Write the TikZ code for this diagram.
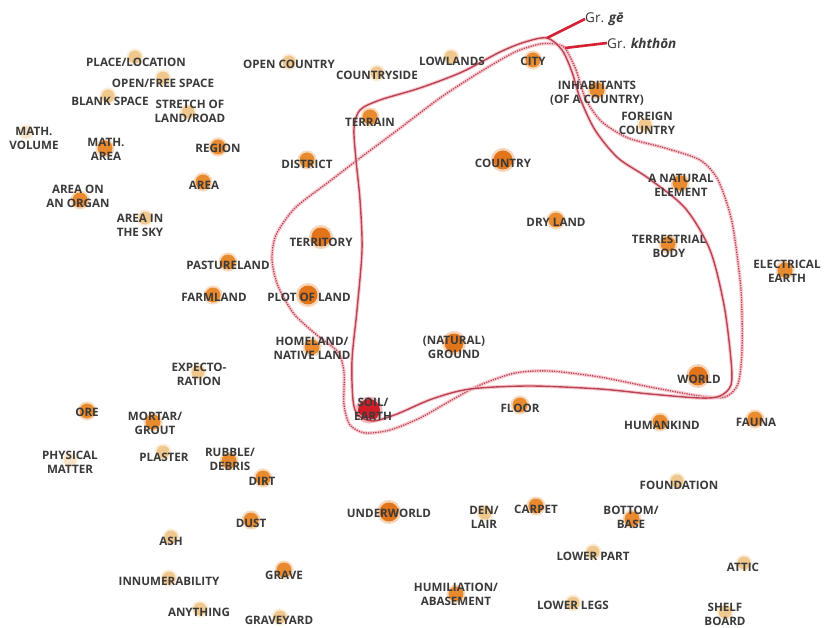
\documentclass[tikz,border=0pt]{standalone}
\usepackage{fontspec}
\setmainfont{Open Sans}
\definecolor{dorg}{HTML}{E2741A}
\definecolor{morg}{HTML}{E98A2E}
\definecolor{lorg}{HTML}{F0C88E}
\definecolor{forg}{HTML}{F7E4C6}
\definecolor{soilc}{HTML}{D01E28}
\definecolor{haloc}{HTML}{F6BCC4}
\definecolor{corec}{HTML}{A41628}
\definecolor{txtc}{HTML}{3A3A3A}
\definecolor{grlc}{HTML}{D42030}
\begin{document}
\begin{tikzpicture}[x=1pt,y=-1pt,
 dotbig/.style={circle,inner sep=0pt,minimum size=19pt,fill=dorg,preaction={draw=dorg,draw opacity=.3,line width=5pt}},
 dotmid/.style={circle,inner sep=0pt,minimum size=15pt,fill=morg,preaction={draw=morg,draw opacity=.3,line width=4pt}},
 dotlight/.style={circle,inner sep=0pt,minimum size=13pt,fill=lorg,preaction={draw=lorg,draw opacity=.3,line width=4pt}},
 dotfaint/.style={circle,inner sep=0pt,minimum size=13pt,fill=forg,preaction={draw=forg,draw opacity=.3,line width=4pt}},
 dotsoil/.style={circle,inner sep=0pt,minimum size=22pt,fill=soilc,preaction={draw=soilc,draw opacity=.3,line width=5pt}},
 lbl/.style={font=\fontsize{11.6}{14}\selectfont\bfseries,text=txtc,align=center,inner sep=0pt},
 grlbl/.style={font=\fontsize{13.5}{15}\selectfont,text=txtc,inner sep=0pt,anchor=west},
 haloline/.style={draw=haloc,line width=3.6pt,line join=round,draw opacity=.75},
 grline/.style={draw=grlc,line width=2.6pt},
]
\useasboundingbox[fill=white] (0,0) rectangle (824,628);

% ---- dots ----
\node[dotlight] (d-place) at (135,57) {};
\node[dotlight] (d-openfree) at (163,78) {};
\node[dotlight] (d-blank) at (108,96) {};
\node[dotlight] (d-stretch) at (188,112) {};
\node[dotfaint] (d-mathvol) at (26,132) {};
\node[dotmid] (d-matharea) at (105,148) {};
\node[dotmid] (d-region) at (218,147) {};
\node[dotmid] (d-area) at (203,182) {};
\node[dotmid] (d-organ) at (80,200) {};
\node[dotlight] (d-sky) at (145,218) {};
\node[dotlight] (d-opencountry) at (289,62) {};
\node[dotlight] (d-countryside) at (377,73) {};
\node[dotlight] (d-lowlands) at (451,57) {};
\node[dotmid] (d-city) at (533,60) {};
\node[dotmid] (d-terrain) at (370,117) {};
\node[dotmid] (d-district) at (307,160) {};
\node[dotbig] (d-country) at (503,160) {};
\node[dotmid] (d-inhab) at (597,90) {};
\node[dotlight] (d-foreign) at (645,125) {};
\node[dotmid] (d-natural) at (680,183) {};
\node[dotmid] (d-dryland) at (556,220) {};
\node[dotmid] (d-terrestrial) at (668,244) {};
\node[dotmid] (d-electrical) at (785,270) {};
\node[dotbig] (d-territory) at (321,237) {};
\node[dotmid] (d-pasture) at (228,262) {};
\node[dotmid] (d-farmland) at (213,295) {};
\node[dotbig] (d-plot) at (308,295) {};
\node[dotmid] (d-homeland) at (312,347) {};
\node[dotbig] (d-ground) at (454,343) {};
\node[dotlight] (d-expecto) at (198,372) {};
\node[dotsoil] (d-soil) at (369,410) {};
\node[dotmid] (d-floor) at (520,405) {};
\node[dotbig] (d-world) at (698,376) {};
\node[dotmid] (d-humankind) at (660,422) {};
\node[dotmid] (d-fauna) at (755,419) {};
\node[dotmid] (d-ore) at (87,411) {};
\node[dotmid] (d-mortar) at (153,422) {};
\node[dotfaint] (d-physical) at (70,460) {};
\node[dotlight] (d-plaster) at (163,452) {};
\node[dotmid] (d-rubble) at (229,461) {};
\node[dotmid] (d-dirt) at (263,478) {};
\node[dotmid] (d-dust) at (251,520) {};
\node[dotlight] (d-ash) at (171,537) {};
\node[dotlight] (d-innum) at (169,578) {};
\node[dotlight] (d-anything) at (200,609) {};
\node[dotmid] (d-grave) at (284,570) {};
\node[dotlight] (d-graveyard) at (280,617) {};
\node[dotbig] (d-underworld) at (389,512) {};
\node[dotlight] (d-den) at (485,513) {};
\node[dotmid] (d-carpet) at (536,506) {};
\node[dotmid] (d-bottom) at (632,519) {};
\node[dotlight] (d-foundation) at (677,481) {};
\node[dotlight] (d-lowerpart) at (593,552) {};
\node[dotlight] (d-lowerlegs) at (573,603) {};
\node[dotlight] (d-attic) at (744,563) {};
\node[dotlight] (d-shelf) at (725,612) {};
\node[dotmid] (d-humil) at (456,594) {};

% ---- boundary curves ----
\coordinate (jg) at (547,38);
\coordinate (jk) at (565,48);
% dashed loop (khthon)
\draw[haloline,postaction={draw=corec,line width=1.3pt,dash pattern=on 1.3pt off 1.1pt}]
 plot[smooth cycle,tension=0.45] coordinates {
 (565,48) (576,70) (586,100) (602,122) (628,138) (665,148) (700,160) (718,180)
 (732,222) (741,290) (742,350) (738,384) (725,397) (700,396) (650,387) (600,377)
 (550,371) (515,373) (480,385) (450,401) (420,418) (390,430) (365,433) (350,425)
 (344,405) (344,372) (338,352) (318,336) (294,314) (278,286) (272,260) (276,235)
 (295,208) (330,181) (360,158) (395,132) (440,98) (480,72) (515,52) (540,44) (555,44)};
% solid loop (ge)
\draw[haloline,postaction={draw=corec,line width=1.4pt}]
 plot[smooth cycle,tension=0.5] coordinates {
 (547,38) (562,50) (572,72) (580,98) (595,130) (618,158) (648,178) (685,208)
 (710,250) (724,305) (731,360) (731,385) (720,396) (700,398) (650,394) (600,389)
 (530,386) (470,389) (432,399) (397,414) (373,421) (358,415) (353,400) (352,360)
 (357,310) (362,250) (360,200) (356,160) (354,128) (360,110) (380,100) (420,88)
 (462,72) (500,52) (525,42)};

% ---- Greek labels ----
\node[grlbl] (gge) at (585,19) {Gr. \textbf{\textit{gē}}};
\node[grlbl] (gkh) at (607,43) {Gr. \textbf{\textit{khthōn}}};
\draw[grline] (gge.west) -- (jg);
\draw[grline] (gkh.west) -- (jk);

% ---- labels ----
\node[lbl] (l-place) at (136,62) {PLACE/LOCATION};
\node[lbl] (l-openfree) at (163,83) {OPEN/FREE SPACE};
\node[lbl] (l-blank) at (110,101) {BLANK SPACE};
\node[lbl] (l-stretch) at (190,111) {STRETCH OF\\LAND/ROAD};
\node[lbl] (l-mathvol) at (34,138) {MATH.\\VOLUME};
\node[lbl] (l-matharea) at (106,149) {MATH.\\AREA};
\node[lbl] (l-region) at (218,148) {REGION};
\node[lbl] (l-area) at (204,185) {AREA};
\node[lbl] (l-organ) at (78,196) {AREA ON\\AN ORGAN};
\node[lbl] (l-sky) at (140,225) {AREA IN\\THE SKY};
\node[lbl] (l-opencountry) at (289,64) {OPEN COUNTRY};
\node[lbl] (l-countryside) at (377,75) {COUNTRYSIDE};
\node[lbl] (l-lowlands) at (452,61) {LOWLANDS};
\node[lbl] (l-city) at (533,61) {CITY};
\node[lbl] (l-terrain) at (370,122) {TERRAIN};
\node[lbl] (l-district) at (307,164) {DISTRICT};
\node[lbl] (l-country) at (503,163) {COUNTRY};
\node[lbl] (l-inhab) at (597,93) {INHABITANTS\\(OF A COUNTRY)};
\node[lbl] (l-foreign) at (647,123) {FOREIGN\\COUNTRY};
\node[lbl] (l-natural) at (681,185) {A NATURAL\\ELEMENT};
\node[lbl] (l-dryland) at (556,222) {DRY LAND};
\node[lbl] (l-terrestrial) at (669,246) {TERRESTRIAL\\BODY};
\node[lbl] (l-electrical) at (787,271) {ELECTRICAL\\EARTH};
\node[lbl] (l-territory) at (321,242) {TERRITORY};
\node[lbl] (l-pasture) at (228,265) {PASTURELAND};
\node[lbl] (l-farmland) at (214,297) {FARMLAND};
\node[lbl] (l-plot) at (309,297) {PLOT OF LAND};
\node[lbl] (l-homeland) at (312,348) {HOMELAND/\\NATIVE LAND};
\node[lbl] (l-ground) at (454,347) {(NATURAL)\\GROUND};
\node[lbl] (l-expecto) at (199,374) {EXPECTO-\\RATION};
\node[lbl] (l-soil) at (373,409) {SOIL/\\EARTH};
\node[lbl] (l-floor) at (520,408) {FLOOR};
\node[lbl] (l-world) at (699,379) {WORLD};
\node[lbl] (l-humankind) at (662,425) {HUMANKIND};
\node[lbl] (l-fauna) at (756,422) {FAUNA};
\node[lbl] (l-ore) at (87,412) {ORE};
\node[lbl] (l-mortar) at (155,423) {MORTAR/\\GROUT};
\node[lbl] (l-physical) at (70,462) {PHYSICAL\\MATTER};
\node[lbl] (l-plaster) at (164,457) {PLASTER};
\node[lbl] (l-rubble) at (230,459) {RUBBLE/\\DEBRIS};
\node[lbl] (l-dirt) at (262,481) {DIRT};
\node[lbl] (l-dust) at (251,523) {DUST};
\node[lbl] (l-ash) at (171,541) {ASH};
\node[lbl] (l-innum) at (169,581) {INNUMERABILITY};
\node[lbl] (l-anything) at (199,612) {ANYTHING};
\node[lbl] (l-grave) at (284,575) {GRAVE};
\node[lbl] (l-graveyard) at (279,620) {GRAVEYARD};
\node[lbl] (l-underworld) at (389,513) {UNDERWORLD};
\node[lbl] (l-den) at (484,517) {DEN/\\LAIR};
\node[lbl] (l-carpet) at (536,509) {CARPET};
\node[lbl] (l-bottom) at (631,517) {BOTTOM/\\BASE};
\node[lbl] (l-foundation) at (679,485) {FOUNDATION};
\node[lbl] (l-lowerpart) at (593,556) {LOWER PART};
\node[lbl] (l-lowerlegs) at (573,605) {LOWER LEGS};
\node[lbl] (l-attic) at (743,567) {ATTIC};
\node[lbl] (l-shelf) at (725,614) {SHELF\\BOARD};
\node[lbl] (l-humil) at (456,594) {HUMILIATION/\\ABASEMENT};
\end{tikzpicture}
\end{document}
